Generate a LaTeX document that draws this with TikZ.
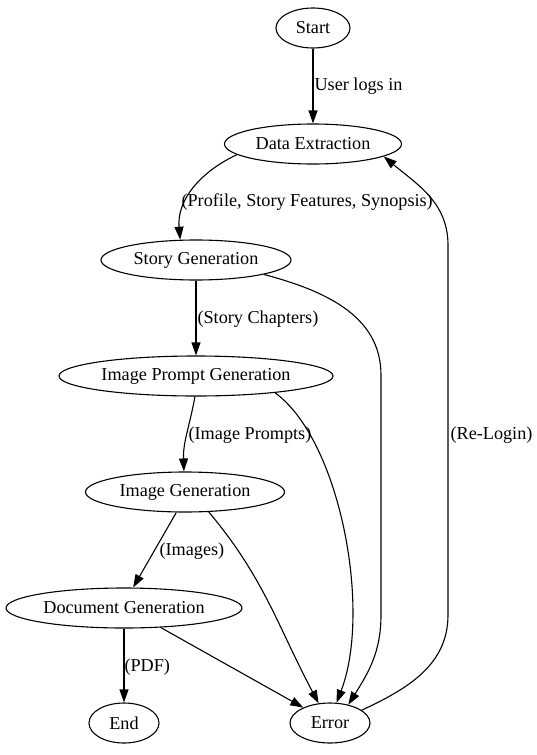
\documentclass[tikz,border=0pt]{standalone}
\usepackage{fontspec}
\setmainfont{Liberation Serif}
\usetikzlibrary{positioning}
\usetikzlibrary{shapes.geometric}
\usetikzlibrary{arrows.meta}
\tikzset{
  every node/.style={
    align=center,
    font=\fontsize{18.2}{22}\selectfont,
  },
  stage/.style={ellipse, draw, inner sep=0pt, minimum height=40pt},
  flow/.style={-{Triangle[length=13pt,width=9pt]}},
  lbl/.style={anchor=west, inner sep=1pt},
}

\begin{document}
\begin{tikzpicture}[x=1pt,y=-1pt,line width=1.1pt]
    \useasboundingbox (0,0) rectangle (536,755);
    % stages
    \node[stage, minimum width=74pt] (start) at (313,28) {Start};
    \node[stage, minimum width=177pt] (extract) at (313,144) {Data Extraction};
    \node[stage, minimum width=190pt] (story) at (196,260) {Story Generation};
    \node[stage, minimum width=274pt] (prompt) at (196,376) {Image Prompt Generation};
    \node[stage, minimum width=199pt] (image) at (185,492) {Image Generation};
    \node[stage, minimum width=236pt] (docgen) at (124,608) {Document Generation};
    \node[stage, minimum width=70pt] (end) at (124,723) {End};
    \node[stage, minimum width=80pt] (error) at (330,723) {Error};
    % main flow
    \draw[flow] (start) -- (extract);
    \node[lbl] (lblogin) at (313,86) {User logs in};
    \draw[flow] (extract.188) to[out=205,in=95] (story.128);
    \node[lbl] (lbprofile) at (180,202) {(Profile, Story Features, Synopsis)};
    \draw[flow] (story) -- (prompt);
    \node[lbl] (lbchapters) at (196,319) {(Story Chapters)};
    \draw[flow] (prompt.267) to[out=-100,in=92] (image.93);
    \node[lbl] (lbprompts) at (187,435) {(Image Prompts)};
    \draw[flow] (image.247) -- (docgen.66);
    \node[lbl] (lbimages) at (158,551) {(Images)};
    \draw[flow] (docgen) -- (end);
    \node[lbl] (lbpdf) at (123,667) {(PDF)};
    % errors
    \draw[flow] (story.-12) to[out=-15,in=90] (381,375) -- (381,615)
      to[out=-90,in=58] (error.45);
    \draw[flow] (prompt.-12) .. controls (340,440) and (372,610) .. (error.72);
    \draw[flow] (image.-40) to[out=-50,in=118] (error.120);
    \draw[flow] (docgen.-28) -- (error.150);
    \draw[flow] (error.22) to[out=25,in=-90] (448,615) -- (448,245)
      to[out=90,in=-40] (extract.-10);
    \node[lbl] (lbrelogin) at (449,435) {(Re-Login)};
\end{tikzpicture}
\end{document}
